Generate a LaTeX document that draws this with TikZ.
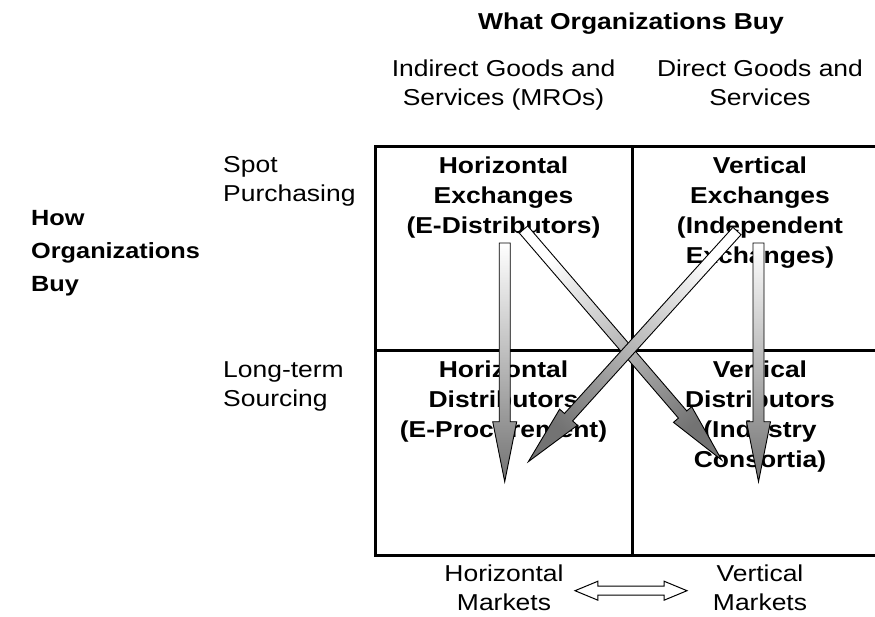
\documentclass[tikz,border=0pt]{standalone}
\usepackage{fontspec}
\setmainfont{Liberation Sans}[FakeStretch=1.15]
\usetikzlibrary{calc,shapes.arrows}

% shaded block arrow from tail #2 to tip #3, #1 = shading angle
\newcommand{\fatarrow}[3][0]{%
  \shade[fadearrow, shading angle=#1]
    ($(#2)!5.5pt!90:(#3)$) --
    ($(#3)!60.25pt!-5.24:(#2)$) --
    ($(#3)!61.19pt!-11.31:(#2)$) --
    (#3) --
    ($(#3)!61.19pt!11.31:(#2)$) --
    ($(#3)!60.25pt!5.24:(#2)$) --
    ($(#2)!5.5pt!-90:(#3)$) -- cycle;}

\begin{document}
\begin{tikzpicture}[x=1pt,y=-1pt,
        colhead/.style={font=\fontsize{23}{29}\selectfont,align=center,anchor=north,inner sep=0pt},
        rowhead/.style={font=\fontsize{23}{29}\selectfont,align=left,anchor=north west,inner sep=0pt},
        axistitle/.style={font=\bfseries\fontsize{23}{34}\selectfont,inner sep=0pt},
        celltext/.style={font=\bfseries\fontsize{23}{30}\selectfont,align=center,anchor=north,inner sep=0pt},
        gridline/.style={line width=3pt},
        fadearrow/.style={draw=black,line width=0.9pt,line join=miter,top color=white,bottom color=black!55},
        dblarrow/.style={double arrow,draw,fill=white,line width=1pt,inner xsep=0pt,inner ysep=4pt,
            minimum height=112pt,double arrow head extend=5pt,double arrow tip angle=45},
        ]
        \path[use as bounding box,fill=white] (0,0) rectangle (875,616);

        % Titres des axes
        \node[axistitle,anchor=base] (what) at (631,29.3) {What Organizations Buy};
        \node[axistitle,font=\bfseries\fontsize{22}{33}\selectfont,align=left,anchor=north west] (how) at (31,210) {How\\Organizations\\Buy};

        % Colonnes
        \node[colhead] (indirect) at (503.5,59.5) {Indirect Goods and\\Services (MROs)};
        \node[colhead] (direct) at (760,59.5) {Direct Goods and\\Services};

        % Lignes
        \node[rowhead] (spot) at (223,156.5) {Spot\\Purchasing};
        \node[rowhead] (longterm) at (223,361.5) {Long-term\\Sourcing};

        % Grille
        \coordinate (nw) at (375,146);
        \coordinate (se) at (889,555);
        \coordinate (midtop) at (632,146);
        \coordinate (midbot) at (632,555);
        \coordinate (midleft) at (375,350);
        \coordinate (midright) at (889,350);
        \draw[gridline] (nw) rectangle (se);
        \draw[gridline] (midtop) -- (midbot);
        \draw[gridline] (midleft) -- (midright);

        % Cases
        \node[celltext] (hexch) at (503.5,156.5) {Horizontal\\Exchanges\\(E-Distributors)};
        \node[celltext] (vexch) at (760,156.5) {Vertical\\Exchanges\\(Independent\\Exchanges)};
        \node[celltext] (hdist) at (503.5,360.5) {Horizontal\\Distributors\\(E-Procurement)};
        \node[celltext] (vdist) at (760,360.5) {Vertical\\Distributors\\(Industry\\Consortia)};

        % Marches
        \node[colhead] (hmkt) at (504,565) {Horizontal\\Markets};
        \node[colhead] (vmkt) at (760,565) {Vertical\\Markets};
        \node[dblarrow] (mkt) at (631,590.7) {};

        % Fleches
        \coordinate (hxtail) at (504.7,243);
        \coordinate (hxtip) at (504.7,481.7);
        \coordinate (vxtail) at (758.5,243);
        \coordinate (vxtip) at (758.5,481.7);
        \coordinate (d1tail) at (523.5,229.5);
        \coordinate (d1tip) at (721.7,460);
        \coordinate (d2tail) at (737,231);
        \coordinate (d2tip) at (528.3,461.7);
        \fatarrow[40]{d1tail}{d1tip}
        \fatarrow[-42]{d2tail}{d2tip}
        \fatarrow{hxtail}{hxtip}
        \fatarrow{vxtail}{vxtip}
    \end{tikzpicture}
\end{document}
